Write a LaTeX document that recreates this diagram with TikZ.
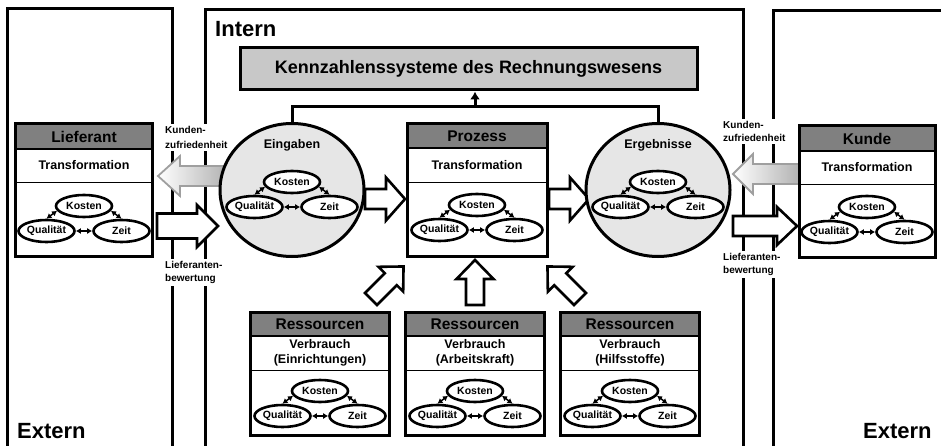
\documentclass[tikz,border=0pt]{standalone}
\usepackage{fontspec}
\setmainfont{Liberation Sans}
\usetikzlibrary{arrows.meta,shapes.geometric}
\definecolor{hdrgray}{HTML}{808080}
\definecolor{circgray}{HTML}{E6E6E6}
\definecolor{kzgray}{HTML}{C8C8C8}
\newcommand\myfs[2]{\fontsize{#1}{#2}\selectfont\bfseries}
\tikzset{
  frameline/.style={line width=3pt},
  boxframe/.style={draw, rectangle, line width=3pt, inner sep=0pt},
  hdrtext/.style={inner sep=0pt, font=\myfs{15.5}{18}},
  midtext/.style={inner sep=0pt, align=center, font=\myfs{12.5}{15}},
  ell/.style={ellipse, draw, line width=2.6pt, fill=white, minimum width=56pt, minimum height=22pt, inner sep=0pt, font=\myfs{10.5}{12}},
  dbl/.style={{Latex[length=5pt,width=6pt]}-{Latex[length=5pt,width=6pt]}, line width=1.5pt},
  barrow/.style={draw, fill=white, line width=2.6pt, line join=miter},
  gradarrow/.style={draw=gray!75, line width=1.8pt, line join=miter},
  circ/.style={ellipse, draw, line width=3pt, fill=circgray, minimum width=144pt, minimum height=133pt, inner sep=0pt},
  lbl/.style={fill=white, inner sep=2pt, align=left, font=\myfs{10}{13}},
  bigtxt/.style={inner sep=0pt, font=\myfs{22}{24}},
  bus/.style={line width=3pt},
}
% block arrow: tail, angle, length, shaft half width, head half width, head length
\newcommand\blockarr[6]{%
  \begin{scope}[shift={#1}, rotate=#2]
    \draw[barrow] (0,#4) -- ({#3-#6},#4) -- ({#3-#6},#5) -- (#3,0) -- ({#3-#6},-#5) -- ({#3-#6},-#4) -- (0,-#4) -- cycle;
  \end{scope}}
% triad of ellipses: name, cx, y of Kosten
\newcommand\triad[3]{%
  \node[ell] (#1k) at (#2,#3) {Kosten};
  \node[ell] (#1q) at ({#2-37.5},{#3+25}) {Qualität};
  \node[ell] (#1z) at ({#2+37.5},{#3+25}) {Zeit};
  \draw[dbl] (#1k.190) -- (#1q.north);
  \draw[dbl] (#1k.350) -- (#1z.north);
  \draw[dbl] (#1q) -- (#1z);}
% box: name, cx, half width, top, header bottom, divider, bottom, header, middle
\newcommand\pbox[9]{%
  \fill[white] ({#2-#3},#4) rectangle ({#2+#3},#7);
  \fill[hdrgray] ({#2-#3},#4) rectangle ({#2+#3},#5);
  \draw[line width=1.4pt] ({#2-#3},#5) -- ({#2+#3},#5);
  \draw[line width=0.9pt] ({#2-#3},#6) -- ({#2+#3},#6);
  \node[boxframe, minimum width={2*#3*1pt}, minimum height={(#7-#4)*1pt}] (#1) at (#2,{(#4+#7)/2}) {};
  \node[hdrtext] (#1-h) at (#2,{(#4+#5)/2}) {#8};
  \node[midtext] (#1-m) at (#2,{(#5+#6)/2}) {#9};}
\begin{document}
\begin{tikzpicture}[x=1pt, y=-1pt]
\useasboundingbox (0,0) rectangle (941,446);
% frames
\draw[frameline] (7,452) -- (7,9) -- (172,9) -- (172,452);
\draw[frameline] (205,452) -- (205,10) -- (743,10) -- (743,452);
\draw[frameline] (773,452) -- (773,11) -- (950,11);
\node[bigtxt, anchor=base west] (intern) at (215,37) {Intern};
\node[bigtxt, anchor=base west] (extl) at (17,438) {Extern};
\node[bigtxt, anchor=base west] (extr) at (863,438) {Extern};
% side labels
\node[lbl, anchor=north west, font=\myfs{10}{15}] (kzl) at (163,124) {Kunden-\\zufriedenheit};
\node[lbl, anchor=north west] (lbl) at (163,259) {Lieferanten-\\bewertung};
\node[lbl, anchor=north west] (kzr) at (721,119) {Kunden-\\zufriedenheit};
\node[lbl, anchor=north west] (lbr) at (721,251) {Lieferanten-\\bewertung};
% Kennzahlen box
\node[draw, line width=3pt, fill=kzgray, minimum width=457pt, minimum height=42pt, inner sep=0pt, font=\myfs{18}{20}] (kz) at (468.5,69) {Kennzahlenssysteme des Rechnungswesens};
% gradient arrows
\shade[gradarrow, left color=white, right color=gray!60] (226,166) -- (180,166) -- (180,156) -- (158,176) -- (180,196) -- (180,186) -- (226,186) -- cycle;
\shade[gradarrow, left color=white, right color=gray!60] (799,164) -- (753,164) -- (753,154) -- (733,174) -- (753,194) -- (753,184) -- (799,184) -- cycle;
% white block arrows
\blockarr{(157,226)}{0}{61}{12.5}{21}{21}
\blockarr{(733,226)}{0}{64}{10}{19}{20}
\blockarr{(365,199)}{0}{40}{10}{21.5}{19}
\blockarr{(549,199)}{0}{40}{10}{21.5}{19}
\blockarr{(475,305)}{90}{45}{9}{18.5}{19}
\blockarr{(371,299)}{45}{46}{8.5}{17.5}{18}
\blockarr{(580,299)}{135}{46}{8.5}{17.5}{18}
% circles
\node[circ] (ein) at (292,190) {};
\node[circ] (erg) at (658,190) {};
\node[inner sep=0pt, font=\myfs{12.5}{14}] (eint) at (292,145) {Eingaben};
\node[inner sep=0pt, font=\myfs{12.5}{14}] (ergt) at (658,145) {Ergebnisse};
\triad{e}{292}{182}
\triad{r}{658}{182}
% bus to Kennzahlen
\coordinate (busc) at (475,107);
\draw[bus] (ein.north) -- (ein.north |- busc) -- (erg.north |- busc) -- (erg.north);
\draw[bus, -{Latex[length=8pt,width=10pt]}] (busc) -- (busc |- kz.south);
% boxes
\pbox{lief}{84}{68.5}{124}{149}{182}{256}{Lieferant}{Transformation}
\triad{l}{84}{206}
\pbox{proz}{477}{70}{124}{148}{182}{256}{Prozess}{Transformation}
\triad{p}{477}{205}
\pbox{kunde}{867}{68}{126}{151}{184}{257}{Kunde}{Transformation}
\triad{k}{867}{207}
\pbox{res1}{320}{69.5}{312}{336}{370}{435}{Ressourcen}{Verbrauch\\(Einrichtungen)}
\triad{a}{320}{391}
\pbox{res2}{475}{69.5}{312}{336}{370}{435}{Ressourcen}{Verbrauch\\(Arbeitskraft)}
\triad{b}{475}{391}
\pbox{res3}{630}{69.5}{312}{336}{370}{435}{Ressourcen}{Verbrauch\\(Hilfsstoffe)}
\triad{c}{630}{391}
\end{tikzpicture}
\end{document}
